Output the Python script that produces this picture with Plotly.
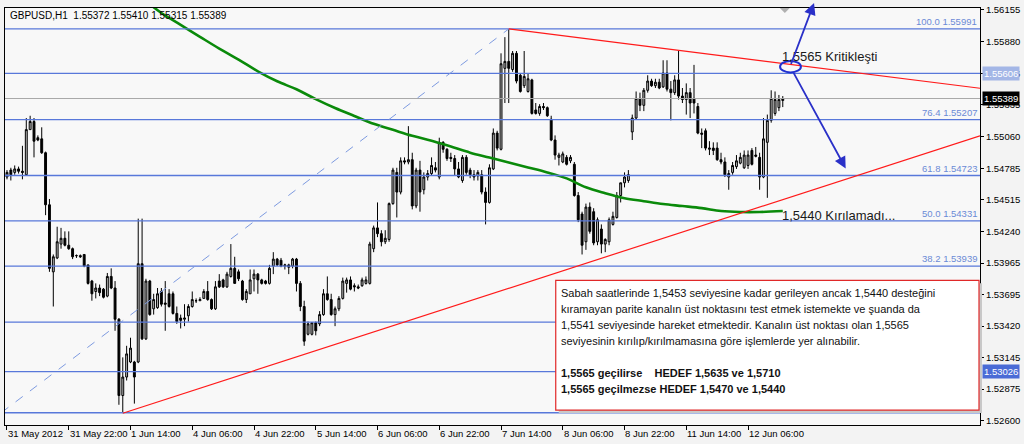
import plotly.graph_objects as go

# ---------------- data (GBPUSD H1, bar index 0 = 31 May 2012 06:00) ----------------
opens = [1.5471, 1.5477, 1.5475, 1.5478, 1.5476, 1.5473, 1.5512, 1.5519, 1.5505, 1.5504,
         1.5492, 1.5447, 1.5389, 1.5401, 1.5413, 1.5418, 1.5412, 1.5409, 1.5403, 1.5403,
         1.5404, 1.5395, 1.5381, 1.5372, 1.5375, 1.5374, 1.5368, 1.5385, 1.5375, 1.5348,
         1.5282, 1.5298, 1.5311, 1.5311, 1.5311, 1.5396, 1.5331, 1.5381, 1.5357, 1.5358,
         1.5372, 1.5362, 1.5370, 1.5370, 1.5353, 1.5349, 1.5348, 1.5351, 1.5359, 1.5364,
         1.5364, 1.5366, 1.5372, 1.5365, 1.5357, 1.5381, 1.5382, 1.5376, 1.5385, 1.5392,
         1.5389, 1.5381, 1.5365, 1.5370, 1.5383, 1.5387, 1.5382, 1.5381, 1.5379, 1.5394,
         1.5400, 1.5399, 1.5394, 1.5395, 1.5394, 1.5400, 1.5379, 1.5359, 1.5335, 1.5335,
         1.5345, 1.5344, 1.5352, 1.5370, 1.5365, 1.5352, 1.5357, 1.5366, 1.5379, 1.5382,
         1.5377, 1.5376, 1.5377, 1.5379, 1.5379, 1.5409, 1.5427, 1.5422, 1.5415, 1.5417,
         1.5448, 1.5475, 1.5458, 1.5485, 1.5484, 1.5486, 1.5446, 1.5477, 1.5460, 1.5471,
         1.5474, 1.5479, 1.5471, 1.5501, 1.5495, 1.5488, 1.5487, 1.5478, 1.5468, 1.5488,
         1.5477, 1.5473, 1.5472, 1.5473, 1.5458, 1.5449, 1.5478, 1.5509, 1.5495, 1.5565,
         1.5571, 1.5564, 1.5578, 1.5559, 1.5550, 1.5545, 1.5555, 1.5529, 1.5526, 1.5532,
         1.5531, 1.5521, 1.5503, 1.5488, 1.5484, 1.5488, 1.5485, 1.5482, 1.5455, 1.5439,
         1.5415, 1.5445, 1.5441, 1.5415, 1.5426, 1.5413, 1.5415, 1.5430, 1.5436, 1.5455,
         1.5466, 1.5468, 1.5510, 1.5522, 1.5539, 1.5533, 1.5546, 1.5554, 1.5550, 1.5553,
         1.5549, 1.5561, 1.5547, 1.5544, 1.5555, 1.5541, 1.5538, 1.5544, 1.5539, 1.5532,
         1.5509, 1.5511, 1.5495, 1.5496, 1.5496, 1.5486, 1.5484, 1.5471, 1.5475, 1.5480,
         1.5483, 1.5479, 1.5481, 1.5494, 1.5490, 1.5488, 1.5471, 1.5501, 1.5520, 1.5526,
         1.5531, 1.55372]
highs = [1.5477, 1.5479, 1.5481, 1.5480, 1.5498, 1.5522, 1.5524, 1.5522, 1.5507, 1.5514,
         1.5493, 1.5452, 1.5404, 1.5428, 1.5427, 1.5424, 1.5424, 1.5410, 1.5404, 1.5404,
         1.5404, 1.5395, 1.5382, 1.5379, 1.5378, 1.5375, 1.5388, 1.5392, 1.5381, 1.5349,
         1.5315, 1.5325, 1.5332, 1.5312, 1.5435, 1.5435, 1.5383, 1.5382, 1.5370, 1.5375,
         1.5375, 1.5381, 1.5374, 1.5372, 1.5359, 1.5352, 1.5361, 1.5361, 1.5372, 1.5366,
         1.5367, 1.5374, 1.5381, 1.5366, 1.5381, 1.5387, 1.5383, 1.5389, 1.5413, 1.5402,
         1.5391, 1.5382, 1.5374, 1.5391, 1.5391, 1.5388, 1.5383, 1.5382, 1.5395, 1.5406,
         1.5401, 1.5401, 1.5396, 1.5396, 1.5401, 1.5401, 1.5381, 1.5364, 1.5346, 1.5345,
         1.5346, 1.5355, 1.5374, 1.5385, 1.5370, 1.5359, 1.5368, 1.5384, 1.5384, 1.5385,
         1.5379, 1.5378, 1.5384, 1.5385, 1.5415, 1.5429, 1.5449, 1.5425, 1.5425, 1.5449,
         1.5479, 1.5479, 1.5488, 1.5488, 1.5515, 1.5492, 1.5479, 1.5485, 1.5475, 1.5477,
         1.5488, 1.5484, 1.5505, 1.5502, 1.5496, 1.5492, 1.5490, 1.5484, 1.5490, 1.5490,
         1.5479, 1.5477, 1.5477, 1.5477, 1.5462, 1.5482, 1.5513, 1.5511, 1.5578, 1.5592,
         1.5599, 1.5580, 1.5580, 1.5561, 1.5580, 1.5561, 1.5556, 1.5535, 1.5534, 1.5535,
         1.5532, 1.5524, 1.5507, 1.5492, 1.5493, 1.5490, 1.5490, 1.5484, 1.5458, 1.5441,
         1.5448, 1.5449, 1.5444, 1.5436, 1.5430, 1.5418, 1.5436, 1.5441, 1.5458, 1.5466,
         1.5475, 1.5477, 1.5525, 1.5545, 1.5544, 1.5548, 1.5559, 1.5556, 1.5556, 1.5556,
         1.5572, 1.5572, 1.5554, 1.5559, 1.5580, 1.5548, 1.5552, 1.5548, 1.5568, 1.5535,
         1.5513, 1.5513, 1.5502, 1.5501, 1.5501, 1.5492, 1.5488, 1.5477, 1.5484, 1.5490,
         1.5492, 1.5494, 1.5494, 1.5496, 1.5497, 1.5492, 1.5522, 1.5525, 1.5546, 1.5545,
         1.5542, 1.55410]
lows = [1.5469, 1.5468, 1.5473, 1.5474, 1.5469, 1.5472, 1.5512, 1.5488, 1.5502, 1.5491,
        1.5438, 1.5389, 1.5359, 1.5400, 1.5409, 1.5411, 1.5408, 1.5400, 1.5401, 1.5401,
        1.5393, 1.5378, 1.5364, 1.5366, 1.5368, 1.5366, 1.5367, 1.5374, 1.5338, 1.5274,
        1.5267, 1.5295, 1.5310, 1.5275, 1.5310, 1.5330, 1.5330, 1.5351, 1.5352, 1.5357,
        1.5359, 1.5338, 1.5358, 1.5352, 1.5344, 1.5340, 1.5342, 1.5346, 1.5358, 1.5362,
        1.5364, 1.5366, 1.5364, 1.5356, 1.5356, 1.5375, 1.5375, 1.5375, 1.5384, 1.5379,
        1.5381, 1.5364, 1.5362, 1.5370, 1.5372, 1.5370, 1.5378, 1.5378, 1.5378, 1.5387,
        1.5394, 1.5393, 1.5391, 1.5387, 1.5392, 1.5372, 1.5355, 1.5325, 1.5334, 1.5334,
        1.5334, 1.5342, 1.5351, 1.5364, 1.5351, 1.5342, 1.5355, 1.5365, 1.5371, 1.5373,
        1.5372, 1.5374, 1.5376, 1.5378, 1.5378, 1.5406, 1.5419, 1.5411, 1.5413, 1.5415,
        1.5447, 1.5436, 1.5456, 1.5482, 1.5482, 1.5443, 1.5444, 1.5441, 1.5456, 1.5468,
        1.5472, 1.5475, 1.5469, 1.5492, 1.5485, 1.5484, 1.5472, 1.5470, 1.5466, 1.5473,
        1.5470, 1.5468, 1.5468, 1.5456, 1.5430, 1.5448, 1.5477, 1.5494, 1.5494, 1.5535,
        1.5535, 1.5562, 1.5552, 1.5544, 1.5548, 1.5544, 1.5525, 1.5525, 1.5524, 1.5529,
        1.5523, 1.5502, 1.5486, 1.5481, 1.5483, 1.5481, 1.5483, 1.5454, 1.5432, 1.5404,
        1.5408, 1.5422, 1.5412, 1.5412, 1.5405, 1.5406, 1.5412, 1.5429, 1.5435, 1.5449,
        1.5462, 1.5466, 1.5503, 1.5521, 1.5528, 1.5528, 1.5544, 1.5549, 1.5548, 1.5547,
        1.5548, 1.5545, 1.5520, 1.5542, 1.5538, 1.5535, 1.5525, 1.5522, 1.5526, 1.5508,
        1.5496, 1.5494, 1.5490, 1.5490, 1.5485, 1.5482, 1.5471, 1.5460, 1.5473, 1.5478,
        1.5482, 1.5478, 1.5478, 1.5481, 1.5488, 1.5460, 1.5470, 1.5453, 1.5518, 1.5524,
        1.5528, 1.55315]
closes = [1.5475, 1.5473, 1.5478, 1.5476, 1.5475, 1.5512, 1.5519, 1.5502, 1.5503, 1.5492,
          1.5447, 1.5392, 1.5402, 1.5415, 1.5418, 1.5412, 1.5409, 1.5402, 1.5403, 1.5402,
          1.5394, 1.5379, 1.5370, 1.5375, 1.5371, 1.5367, 1.5385, 1.5375, 1.5348, 1.5282,
          1.5298, 1.5318, 1.5323, 1.5298, 1.5396, 1.5331, 1.5381, 1.5352, 1.5365, 1.5370,
          1.5361, 1.5361, 1.5359, 1.5353, 1.5346, 1.5347, 1.5349, 1.5359, 1.5365, 1.5364,
          1.5365, 1.5372, 1.5365, 1.5357, 1.5376, 1.5376, 1.5376, 1.5387, 1.5392, 1.5379,
          1.5383, 1.5365, 1.5372, 1.5382, 1.5387, 1.5382, 1.5379, 1.5379, 1.5392, 1.5400,
          1.5395, 1.5394, 1.5395, 1.5393, 1.5400, 1.5379, 1.5359, 1.5329, 1.5344, 1.5345,
          1.5338, 1.5352, 1.5370, 1.5365, 1.5352, 1.5357, 1.5366, 1.5381, 1.5382, 1.5374,
          1.5376, 1.5375, 1.5382, 1.5382, 1.5413, 1.5427, 1.5422, 1.5415, 1.5418, 1.5448,
          1.5477, 1.5458, 1.5485, 1.5484, 1.5486, 1.5446, 1.5477, 1.5458, 1.5471, 1.5474,
          1.5481, 1.5477, 1.5501, 1.5495, 1.5487, 1.5487, 1.5478, 1.5471, 1.5488, 1.5475,
          1.5473, 1.5471, 1.5475, 1.5458, 1.5449, 1.5479, 1.5509, 1.5496, 1.5569, 1.5571,
          1.5565, 1.5578, 1.5554, 1.5545, 1.5558, 1.5556, 1.5526, 1.5526, 1.5532, 1.5531,
          1.5524, 1.5503, 1.5490, 1.5490, 1.5491, 1.5482, 1.5488, 1.5455, 1.5434, 1.5412,
          1.5445, 1.5424, 1.5414, 1.5434, 1.5413, 1.5417, 1.5434, 1.5437, 1.5455, 1.5466,
          1.5471, 1.5473, 1.5522, 1.5539, 1.5533, 1.5546, 1.5554, 1.5550, 1.5553, 1.5548,
          1.5561, 1.5547, 1.5544, 1.5555, 1.5541, 1.5538, 1.5544, 1.5535, 1.5535, 1.5509,
          1.5508, 1.5496, 1.5496, 1.5494, 1.5486, 1.5484, 1.5473, 1.5474, 1.5481, 1.5485,
          1.5488, 1.5490, 1.5490, 1.5482, 1.5489, 1.5471, 1.5504, 1.5520, 1.5539, 1.5538,
          1.5538, 1.55389]

# Moving average (green), sampled at bar indices
ma_idx = [36, 40, 45, 50, 55, 60, 65, 70, 75, 80, 85, 90, 95, 100, 105, 110, 115, 120,
          125, 130, 135, 140, 145, 150, 155, 160, 165, 170, 175, 180, 185, 190, 195, 201]
ma_vals = [1.56232, 1.56129, 1.56026, 1.55923, 1.55821, 1.55726, 1.55624, 1.55538, 1.55469,
           1.55384, 1.55307, 1.55238, 1.55170, 1.55118, 1.55067, 1.55024, 1.54973, 1.54921,
           1.54878, 1.54835, 1.54793, 1.54750, 1.54698, 1.54621, 1.54570, 1.54527, 1.54501,
           1.54476, 1.54459, 1.54441, 1.54416, 1.54407, 1.54407, 1.54416]

# Fibonacci retracement and horizontal lines
fib_levels = ["0.0", "23.6", "38.2", "50.0", "61.8", "76.4", "100.0"]
fib_prices = [1.52671, 1.53454, 1.53939, 1.54331, 1.54723, 1.55207, 1.55991]
fib_labelled = ["38.2", "50.0", "61.8", "76.4", "100.0"]
hline_prices = [1.55606, 1.53026]
current_price = 1.55389

# trend lines (bar index, price)
support_x = [30, 252.1]
support_y = [1.52667, 1.55067]
resist_x = [130, 252.1]
resist_y = [1.55991, 1.55478]
fibtrend_x = [-1.5, 130]
fibtrend_y = [1.52671, 1.55991]

# axis ticks
x_tick_idx = [0, 16, 32, 48, 64, 80, 96, 112, 128, 144, 160, 176, 192]
x_tick_labels = ["31 May 2012", "31 May 22:00", "1 Jun 14:00", "4 Jun 06:00", "4 Jun 22:00",
                 "5 Jun 14:00", "6 Jun 06:00", "6 Jun 22:00", "7 Jun 14:00", "8 Jun 06:00",
                 "8 Jun 22:00", "11 Jun 14:00", "12 Jun 06:00"]
y_ticks = [1.56155, 1.55880, 1.55606, 1.55335, 1.55060, 1.54785, 1.54515, 1.54240,
           1.53965, 1.53695, 1.53420, 1.53145, 1.52875, 1.52600]

header_text = "GBPUSD,H1  1.55372 1.55410 1.55315 1.55389"
comment_lines = [
    "Sabah saatlerinde 1,5453 seviyesine kadar gerileyen ancak 1,5440 desteğini",
    "kıramayan parite kanalın üst noktasını test etmek istemekte ve şuanda da",
    "1,5541 seviyesinde hareket etmektedir. Kanalın üst noktası olan 1,5565",
    "seviyesinin kırılıp/kırılmamasına göre işlemlerde yer alınabilir.",
]
bold_lines = [
    "1,5565 geçilirse\u00a0\u00a0\u00a0 HEDEF 1,5635 ve 1,5710",
    "1,5565 geçilmezse HEDEF 1,5470 ve 1,5440",
]

# ---------------- figure ----------------
W, H = 1024, 444
L, R, T, B = 4, 41, 4, 19
PW, PH = W - L - R, H - T - B
X0, X1 = -0.516, 252.1
Y0, Y1 = 1.52565, 1.56172
BAR_PX0, BAR_PX = 6.0, 3.875          # window pixel of bar 0 and bar spacing


def px_x(px):
    return (px - L) / PW


def px_y(py):
    return (H - B - py) / PH


FONT = "Liberation Sans, Arial, sans-serif"
LINE_BLUE = "#5878da"

fig = go.Figure()

fig.add_trace(go.Candlestick(
    x=list(range(len(opens))), open=opens, high=highs, low=lows, close=closes,
    increasing=dict(fillcolor="#bdbdbd", line=dict(color="#000000", width=1)),
    decreasing=dict(fillcolor="#000000", line=dict(color="#000000", width=1)),
    whiskerwidth=0, hoverinfo="skip",
))

fig.add_trace(go.Scatter(
    x=ma_idx, y=ma_vals, mode="lines", line=dict(color="#0a8a0a", width=2.6, shape="spline"),
    hoverinfo="skip",
))

shapes = []
for p in fib_prices + hline_prices:
    shapes.append(dict(type="line", xref="paper", yref="y", x0=0, x1=1, y0=p, y1=p,
                       line=dict(color=LINE_BLUE, width=1.3), layer="above"))
shapes.append(dict(type="line", xref="paper", yref="y", x0=0, x1=1, y0=current_price,
                   y1=current_price, line=dict(color="#a8a8a8", width=1), layer="above"))
shapes.append(dict(type="line", xref="x", yref="y", x0=fibtrend_x[0], x1=fibtrend_x[1],
                   y0=fibtrend_y[0], y1=fibtrend_y[1],
                   line=dict(color="#7d9ae0", width=1, dash="dash"), layer="above"))
shapes.append(dict(type="line", xref="x", yref="y", x0=support_x[0], x1=support_x[1],
                   y0=support_y[0], y1=support_y[1], line=dict(color="#ff1a1a", width=1.2),
                   layer="above"))
shapes.append(dict(type="line", xref="x", yref="y", x0=resist_x[0], x1=resist_x[1],
                   y0=resist_y[0], y1=resist_y[1], line=dict(color="#ff1a1a", width=1.2),
                   layer="above"))
# ellipse marking the breakout point
shapes.append(dict(type="circle", xref="x", yref="y", x0=200.3, x1=205.7, y0=1.55615,
                   y1=1.55713, line=dict(color="#2030d0", width=2), layer="above"))
# chart shift marker
shapes.append(dict(type="path", xref="paper", yref="paper",
                   path=f"M {px_x(782)},{px_y(4)} L {px_x(792)},{px_y(4)} L {px_x(787)},{px_y(9)} Z",
                   fillcolor="#b0b0b0", line=dict(width=0), layer="above"))
# comment box (shadow + box)
shapes.append(dict(type="rect", xref="paper", yref="paper", x0=px_x(560), x1=px_x(985),
                   y0=px_y(413), y1=px_y(282), fillcolor="#c8c8c8", line=dict(width=0),
                   layer="above"))
shapes.append(dict(type="rect", xref="paper", yref="paper", x0=px_x(557), x1=px_x(982),
                   y0=px_y(410), y1=px_y(279), fillcolor="#ffffff",
                   line=dict(color="#e02828", width=1.2), layer="above"))

ann = []
ann.append(dict(xref="paper", yref="paper", x=px_x(7), y=px_y(12), text=header_text,
                showarrow=False, xanchor="left", yanchor="middle",
                font=dict(family=FONT, size=10, color="#000000")))
# x tick labels (left-aligned at their tick, as in MetaTrader)
for i, lab in zip(x_tick_idx, x_tick_labels):
    ann.append(dict(xref="paper", yref="paper", x=px_x(BAR_PX0 + BAR_PX * i - 1),
                    y=px_y(434), text=lab, showarrow=False, xanchor="left",
                    yanchor="middle", font=dict(family=FONT, size=9.5, color="#000000")))
for lvl, p in zip(fib_levels, fib_prices):
    if lvl in fib_labelled:
        ann.append(dict(xref="paper", yref="y", x=px_x(982), y=p, text=f"{lvl} {p:.5f}",
                        showarrow=False, xanchor="right", yanchor="bottom",
                        font=dict(family=FONT, size=9.5, color="#6b8ad6")))
# highlighted price labels on the right axis
for p, bg in [(1.55606, "#a3b6e6"), (1.53026, "#4a6bd6"), (current_price, "#000000")]:
    ann.append(dict(xref="paper", yref="y", x=px_x(985), y=p, text=f"{p:.5f}",
                    showarrow=False, xanchor="left", yanchor="middle", bgcolor=bg,
                    borderpad=1, font=dict(family=FONT, size=9.5, color="#ffffff")))
ann.append(dict(xref="paper", yref="paper", x=px_x(782), y=px_y(53),
                text="1,5565 Kritikleşti", showarrow=False, xanchor="left", yanchor="middle",
                font=dict(family=FONT, size=13, color="#1a1a1a")))
ann.append(dict(xref="paper", yref="paper", x=px_x(782), y=px_y(213),
                text="1,5440 Kırılamadı...", showarrow=False, xanchor="left",
                yanchor="middle", font=dict(family=FONT, size=13, color="#1a1a1a")))
# arrows
ann.append(dict(xref="x", yref="y", axref="x", ayref="y", x=209.1, y=1.56215, ax=203.0,
                ay=1.55675, text="", showarrow=True, arrowhead=2, arrowsize=1.3,
                arrowwidth=1.8, arrowcolor="#2a30c8"))
ann.append(dict(xref="x", yref="y", axref="x", ayref="y", x=217.3, y=1.54784, ax=203.6,
                ay=1.55624, text="", showarrow=True, arrowhead=2, arrowsize=1.3,
                arrowwidth=1.8, arrowcolor="#2a30c8"))
# comment text
for k, line in enumerate(comment_lines):
    ann.append(dict(xref="paper", yref="paper", x=px_x(560), y=px_y(292 + 16 * k),
                    text=line, showarrow=False, xanchor="left", yanchor="middle",
                    font=dict(family=FONT, size=11, color="#111111")))
for k, line in enumerate(bold_lines):
    ann.append(dict(xref="paper", yref="paper", x=px_x(560), y=px_y(373 + 16 * k),
                    text=f"<b>{line}</b>", showarrow=False, xanchor="left",
                    yanchor="middle", font=dict(family=FONT, size=11, color="#111111")))

fig.update_layout(
    width=W, height=H,
    margin=dict(l=L, r=R, t=T, b=B),
    paper_bgcolor="#f3f3f3", plot_bgcolor="#f8f8f8",
    showlegend=False, hovermode=False,
    shapes=shapes, annotations=ann,
    xaxis=dict(range=[X0, X1], showgrid=False, zeroline=False, showline=True,
               linecolor="#000000", linewidth=1, mirror=True, ticks="outside", ticklen=4,
               tickcolor="#000000", tickvals=x_tick_idx, showticklabels=False,
               rangeslider=dict(visible=False), fixedrange=True),
    yaxis=dict(range=[Y0, Y1], side="right", showgrid=False, zeroline=False, showline=True,
               linecolor="#000000", linewidth=1, mirror=True, ticks="outside", ticklen=3,
               tickcolor="#000000", tickvals=y_ticks, ticktext=[f"{v:.5f}" for v in y_ticks],
               tickfont=dict(family=FONT, size=9.5, color="#000000"), ticklabelstandoff=0,
               fixedrange=True),
)

# the reference chart fills the window edge to edge, so drop the page's default body margin
fig.write_html("out.html", config={"displayModeBar": False},
               post_script="document.body.style.margin='0px';")
